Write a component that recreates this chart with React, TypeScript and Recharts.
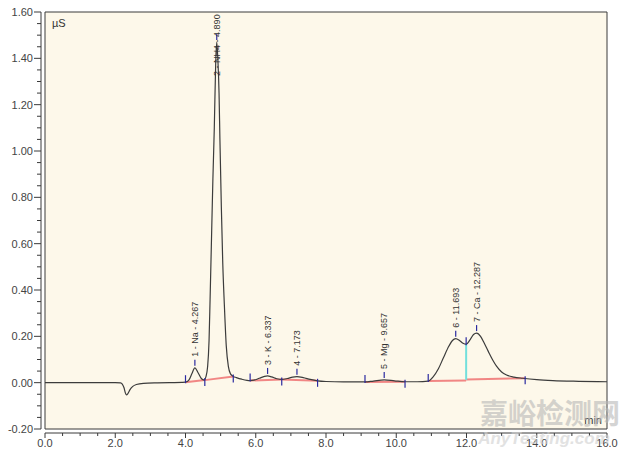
import {
  ComposedChart,
  Line,
  ReferenceArea,
  ReferenceLine,
  Scatter,
  XAxis,
  YAxis,
} from "recharts";

// detector trace (min, µS)
const curveTimes = [
  0, 1.0, 2.0, 2.15, 2.2, 2.25, 2.29, 2.32, 2.36, 2.42, 2.5, 2.6, 2.8, 3.2, 3.6,
  3.9, 4.0, 4.1, 4.18, 4.267, 4.35, 4.45, 4.53, 4.58, 4.63, 4.67, 4.7, 4.74,
  4.78, 4.82, 4.86, 4.89, 4.92, 4.955, 4.98, 5.02, 5.06, 5.105, 5.16, 5.22,
  5.28, 5.36, 5.45, 5.6, 5.75, 5.84, 5.95, 6.1, 6.25, 6.337, 6.45, 6.6, 6.74,
  6.9, 7.05, 7.173, 7.35, 7.55, 7.76, 8.0, 8.5, 9.0, 9.11, 9.35, 9.657, 9.95,
  10.25, 10.6, 10.91, 11.05, 11.2, 11.35, 11.5, 11.6, 11.693, 11.8, 11.9, 11.99,
  12.1, 12.2, 12.287, 12.4, 12.5, 12.62, 12.75, 12.86, 13.0, 13.14, 13.35, 13.6,
  14.0, 14.46, 15.2, 16.0,
];
const curveValues = [
  0, 0, 0, -0.001, -0.006, -0.022, -0.045, -0.053, -0.047, -0.03, -0.016,
  -0.008, -0.003, -0.001, 0, 0.001, 0.002, 0.012, 0.038, 0.064, 0.045, 0.018,
  0.011, 0.025, 0.07, 0.18, 0.36, 0.62, 0.88, 1.1, 1.38, 1.47, 1.4, 1.25, 1.05,
  0.76, 0.52, 0.34, 0.16, 0.07, 0.038, 0.027, 0.022, 0.015, 0.01, 0.009, 0.011,
  0.019, 0.027, 0.029, 0.025, 0.017, 0.014, 0.018, 0.024, 0.026, 0.022, 0.014,
  0.008, 0.005, 0.003, 0.003, 0.003, 0.007, 0.012, 0.008, 0.004, 0.004, 0.007,
  0.025, 0.06, 0.11, 0.158, 0.182, 0.19, 0.182, 0.17, 0.166, 0.185, 0.208,
  0.214, 0.2, 0.172, 0.135, 0.097, 0.07, 0.046, 0.033, 0.024, 0.019, 0.013,
  0.009, 0.006, 0.004,
];

// identified peaks
const peakNumbers = [1, 2, 3, 4, 5, 6, 7];
const peakNames = ["Na", "NH4", "K", "", "Mg", "", "Ca"];
const peakTimes = [4.267, 4.89, 6.337, 7.173, 9.657, 11.693, 12.287];
const peakHeights = [0.064, 1.47, 0.029, 0.026, 0.012, 0.19, 0.214];

// peak start / end delimiters
const delimTimes = [4.0, 4.55, 5.36, 5.84, 6.74, 7.76, 9.11, 10.25, 10.91, 11.99, 13.67];
const delimValues = [0.002, 0.011, 0.027, 0.009, 0.014, 0.008, 0.003, 0.004, 0.007, 0.166, 0.019];
const delimUp = [true, false, false, true, false, false, true, false, true, true, false];

// integration baselines
const baseStartT = [4.0, 4.55, 5.84, 6.74, 9.11, 10.91, 11.99];
const baseStartV = [0.002, 0.011, 0.009, 0.014, 0.003, 0.007, 0.014];
const baseEndT = [4.55, 5.36, 6.74, 7.76, 10.25, 11.99, 13.67];
const baseEndV = [0.011, 0.027, 0.014, 0.008, 0.004, 0.009, 0.019];

// peak split drop line
const dropTime = 11.99;
const dropFrom = 0.012;
const dropTo = 0.166;

const xMajor = [0, 2, 4, 6, 8, 10, 12, 14, 16];
const yMajor = [-0.2, 0, 0.2, 0.4, 0.6, 0.8, 1.0, 1.2, 1.4, 1.6];

const xTicks = Array.from({ length: 33 }, (_, i) => i * 0.5);
const yTicks = Array.from({ length: 37 }, (_, i) => Math.round((-0.2 + i * 0.05) * 100) / 100);

const curve = curveTimes.map((t, i) => ({ t, v: curveValues[i] }));
const peaks = peakTimes.map((t, i) => ({
  t,
  v: peakHeights[i],
  label: [String(peakNumbers[i]), peakNames[i], t.toFixed(3)].filter(Boolean).join(" - "),
}));
const delims = delimTimes.map((t, i) => ({ t, v: delimValues[i], up: delimUp[i] }));

const AXIS = "#3a3a3a";
const FONT = "'Liberation Sans', Arial, sans-serif";

function XTick(props: any) {
  const { x, y, payload } = props;
  const major = xMajor.includes(payload.value);
  return (
    <g>
      <line x1={x} x2={x} y1={y + 4} y2={y + (major ? 9 : 7)} stroke={AXIS} />
      {major && (
        <text x={x} y={y + 18} textAnchor="middle" fontSize={11} fontFamily={FONT} fill="#444">
          {payload.value.toFixed(1)}
        </text>
      )}
    </g>
  );
}

function YTick(props: any) {
  const { x, y, payload } = props;
  const major = yMajor.some((m) => Math.abs(m - payload.value) < 1e-6);
  return (
    <g>
      <line x1={x - 4 - (major ? 7 : 4)} x2={x - 4} y1={y} y2={y} stroke={AXIS} />
      {major && (
        <text x={x - 12} y={y} dy="0.35em" textAnchor="end" fontSize={11} fontFamily={FONT} fill="#444">
          {payload.value.toFixed(2)}
        </text>
      )}
    </g>
  );
}

function PeakMark(props: any) {
  const { cx, cy, payload } = props;
  const nearTop = cy < 90;
  const ty = nearTop ? cy + 3 : cy - 11;
  return (
    <g>
      <line x1={cx} x2={cx} y1={cy - 8} y2={cy - 2} stroke="#2a2aa0" strokeWidth={1.2} />
      <text
        x={cx}
        y={ty}
        dy="0.35em"
        transform={`rotate(-90 ${cx} ${ty})`}
        textAnchor={nearTop ? "middle" : "start"}
        fontSize={9}
        fontFamily={FONT}
        fill="#333"
      >
        {payload.label}
      </text>
    </g>
  );
}

function DelimMark(props: any) {
  const { cx, cy, payload } = props;
  const y1 = payload.up ? cy - 7 : cy - 2;
  const y2 = payload.up ? cy + 1 : cy + 6;
  return <line x1={cx} x2={cx} y1={y1} y2={y2} stroke="#2a2aa0" strokeWidth={1.2} />;
}

export default function App() {
  return (
    <div style={{ position: "absolute", left: 0, top: 0, width: 632, height: 455, background: "#fff" }}>
      <ComposedChart width={632} height={455} margin={{ top: 12, right: 25, left: 0, bottom: 0 }}>
        <XAxis
          type="number"
          dataKey="t"
          domain={[0, 16]}
          ticks={xTicks}
          interval={0}
          allowDataOverflow
          axisLine={false}
          tickLine={false}
          tickSize={0}
          tickMargin={0}
          height={26}
          tick={<XTick />}
        />
        <YAxis
          type="number"
          dataKey="v"
          domain={[-0.2, 1.6]}
          ticks={yTicks}
          interval={0}
          allowDataOverflow
          axisLine={false}
          tickLine={false}
          tickSize={0}
          tickMargin={0}
          width={45}
          tick={<YTick />}
        />
        <ReferenceArea
          x1={0}
          x2={16}
          y1={-0.2}
          y2={1.6}
          fill="#fdf8ea"
          fillOpacity={1}
          stroke={AXIS}
          strokeWidth={1}
          label={{ value: "µS", position: "insideTopLeft", offset: 7, fontSize: 11, fill: "#333", fontFamily: FONT }}
        />
        <ReferenceArea
          x1={0}
          x2={16}
          y1={-0.2}
          y2={1.6}
          fill="none"
          stroke="none"
          label={{ value: "min", position: "insideBottomRight", offset: 5, fontSize: 11, fill: "#333", fontFamily: FONT }}
        />
        <ReferenceLine
          y={-0.2}
          stroke={AXIS}
          shape={(p: any) => <line x1={p.x1} x2={p.x2} y1={p.y1 + 4} y2={p.y2 + 4} stroke={AXIS} />}
        />
        <ReferenceLine
          x={0}
          stroke={AXIS}
          shape={(p: any) => <line x1={p.x1 - 4} x2={p.x2 - 4} y1={p.y1} y2={p.y2} stroke={AXIS} />}
        />
        {baseStartT.map((t, i) => (
          <ReferenceLine
            key={`b${i}`}
            segment={[
              { x: t, y: baseStartV[i] },
              { x: baseEndT[i], y: baseEndV[i] },
            ]}
            stroke="#ee7272"
            strokeOpacity={0.85}
            strokeWidth={2}
          />
        ))}
        <ReferenceLine
          segment={[
            { x: dropTime, y: dropFrom },
            { x: dropTime, y: dropTo },
          ]}
          stroke="#72e0dc"
          strokeWidth={2}
        />
        <Line
          data={curve}
          dataKey="v"
          type="monotone"
          stroke="#3c3c3c"
          strokeWidth={1.2}
          dot={false}
          activeDot={false}
          isAnimationActive={false}
        />
        <Scatter data={delims} dataKey="v" shape={(p: any) => <DelimMark {...p} />} isAnimationActive={false} />
        <Scatter data={peaks} dataKey="v" shape={(p: any) => <PeakMark {...p} />} isAnimationActive={false} />
      </ComposedChart>
      <svg
        width={632}
        height={455}
        style={{ position: "absolute", left: 0, top: 0, pointerEvents: "none" }}
      >
        <text
          x={550}
          y={424}
          textAnchor="middle"
          fontSize={28}
          fontWeight="bold"
          fontFamily="'Noto Sans CJK SC', sans-serif"
          fill="#b8b8b8"
          opacity={0.6}
        >
          嘉峪检测网
        </text>
        <text
          x={544}
          y={444}
          textAnchor="middle"
          fontSize={17}
          fontWeight="bold"
          fontStyle="italic"
          fontFamily={FONT}
          fill="#cfcfcf"
          opacity={0.6}
        >
          AnyTesting.com
        </text>
      </svg>
    </div>
  );
}
